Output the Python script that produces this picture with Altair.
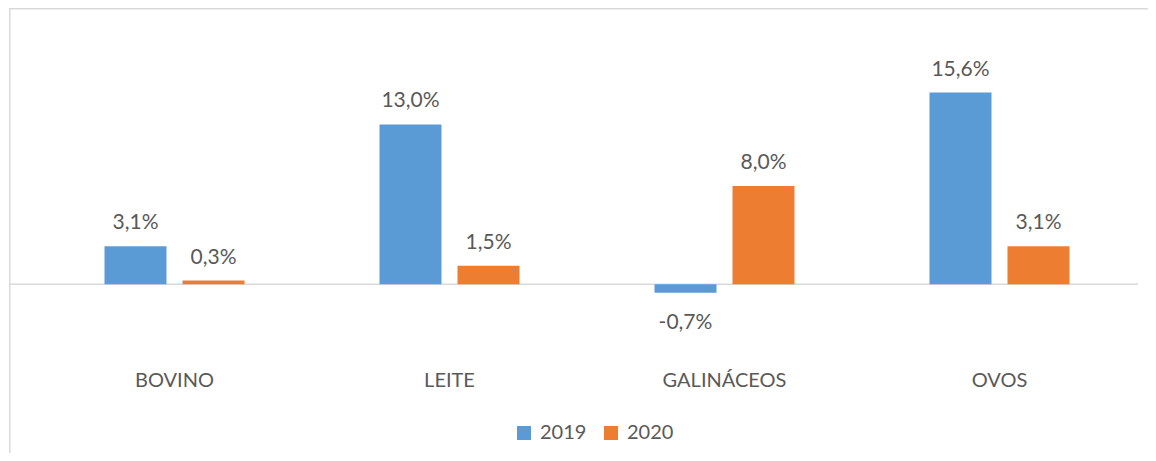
import altair as alt
import pandas as pd

categories = ["BOVINO", "LEITE", "GALINÁCEOS", "OVOS"]
series = ["2019", "2020"]
values_2019 = [3.1, 13.0, -0.7, 15.6]
values_2020 = [0.3, 1.5, 8.0, 3.1]
colors = ["#5b9bd5", "#ed7d31"]

rows = []
for cat, a, b in zip(categories, values_2019, values_2020):
    for s, v in (("2019", a), ("2020", b)):
        rows.append({"cat": cat, "serie": s, "v": v,
                     "label": f"{v:.1f}%".replace(".", ",")})
df = pd.DataFrame(rows)

FONT = "Lato"
TXT = "#595959"

x = alt.X("cat:N", sort=categories,
          scale=alt.Scale(paddingInner=0, paddingOuter=0),
          axis=alt.Axis(title=None, domain=False, ticks=False, labelAngle=0,
                        labelFont=FONT, labelFontSize=20, labelColor=TXT,
                        labelPadding=12))
xo = alt.XOffset("serie:N", sort=series,
                 scale=alt.Scale(paddingInner=0.205, paddingOuter=0.865))
y = alt.Y("v:Q", scale=alt.Scale(domain=[-6, 18], nice=False, zero=False),
          axis=None)

base = alt.Chart(df)

bars = base.mark_bar(size=62).encode(
    x=x, xOffset=xo, y=y, y2=alt.datum(0),
    color=alt.Color("serie:N", sort=series,
                    scale=alt.Scale(domain=series, range=colors),
                    legend=alt.Legend(title=None, orient="none", direction="horizontal",
                                      legendX=477, legendY=360,
                                      symbolType="square", symbolSize=196,
                                      symbolStrokeWidth=0, labelFont=FONT,
                                      labelFontSize=20, labelColor=TXT,
                                      labelOffset=6, columnPadding=14)),
)

pos_text = base.transform_filter("datum.v >= 0").mark_text(
    font=FONT, fontSize=21, color=TXT, baseline="alphabetic", dy=-17
).encode(x=x, xOffset=xo, y=y, text="label:N")

neg_text = base.transform_filter("datum.v < 0").mark_text(
    font=FONT, fontSize=21, color=TXT, baseline="alphabetic", dy=36
).encode(x=x, xOffset=xo, y=y, text="label:N")

zero = alt.Chart(pd.DataFrame({"z": [0]})).mark_rule(
    color="#d9d9d9", strokeWidth=1.5
).encode(y=alt.Y("z:Q", scale=alt.Scale(domain=[-6, 18], nice=False, zero=False), axis=None),
         x=alt.value(-28), x2=alt.value(1101))

border_top = alt.Chart(pd.DataFrame({"z": [0]})).mark_rule(
    color="#d9d9d9", strokeWidth=1.5
).encode(x=alt.value(-28), x2=alt.value(1112), y=alt.value(-54.25))

border_left = alt.Chart(pd.DataFrame({"z": [0]})).mark_rule(
    color="#d9d9d9", strokeWidth=1.5
).encode(x=alt.value(-27.25), y=alt.value(-55), y2=alt.value(390))

chart = alt.layer(zero, bars, pos_text, neg_text, border_top, border_left).properties(
    width=1100, height=295,
    autosize=alt.AutoSizeParams(type="none"),
    padding={"left": 29, "top": 55, "right": 11, "bottom": 95},
    background="white",
).configure_view(stroke=None)

chart.save("out.html", embed_options={"renderer": "svg", "actions": False})
